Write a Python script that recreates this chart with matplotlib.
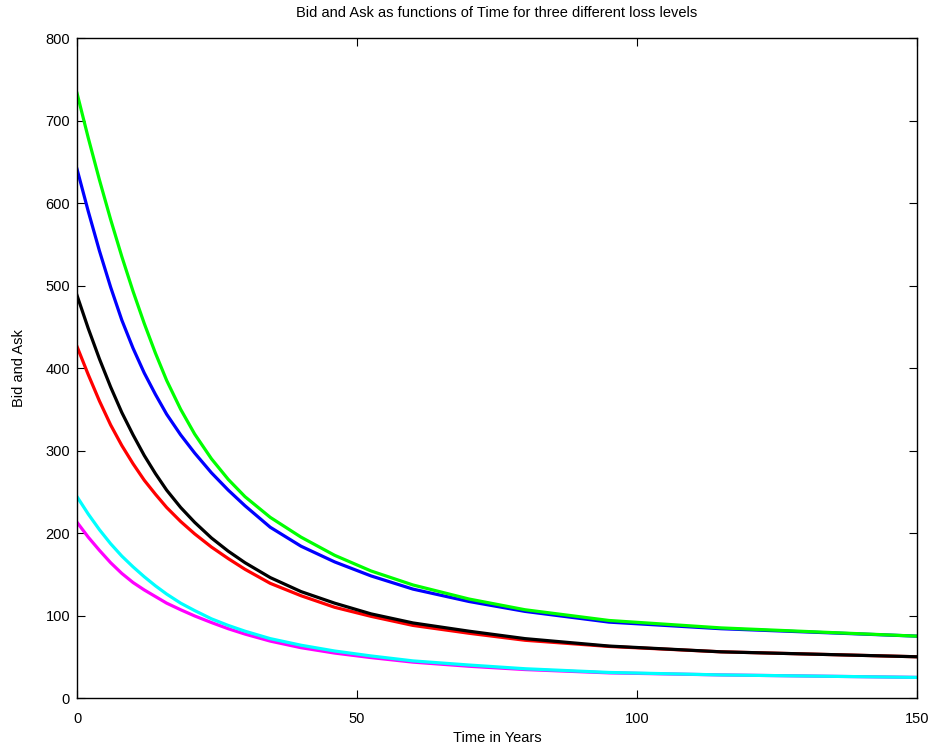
import matplotlib
matplotlib.use("Agg")
import matplotlib.pyplot as plt

plt.rcParams['font.family'] = ['Liberation Sans', 'DejaVu Sans']

t = [0, 2, 4, 6, 8, 10, 12, 14, 16, 18.5, 21, 24, 27, 30, 34.5, 40, 46, 52.5, 60, 70, 80, 95, 115, 150]

bid_low = [213, 195, 179, 164, 151, 140, 131, 123, 115, 107, 99.5, 91.5, 84, 77.5, 69, 61, 54.5, 49, 43.5, 38.5, 34.5, 30.5, 28, 25]
ask_low = [244, 223, 204, 187, 172, 159, 147, 136, 126, 115, 106, 96, 88, 81, 72, 64, 57, 51, 45, 40, 35.5, 31, 28, 25]
bid_mid = [426, 392, 360, 331, 306, 284, 264, 247, 231, 214, 199, 183, 169, 156, 139, 124, 110, 99, 88, 78.5, 70, 62.5, 56, 50]
ask_mid = [488, 448, 411, 377, 346, 319, 294, 272, 252, 231, 213, 194, 178, 164, 146, 129, 115, 102, 91, 81, 72, 63, 56, 50]
bid_high = [641, 590, 542, 498, 458, 424, 394, 368, 344, 319, 297, 273, 252, 233, 207, 184, 165, 148, 132, 117, 105, 92, 84, 75]
ask_high = [733, 679, 628, 580, 535, 493, 454, 418, 385, 350, 320, 290, 265, 244, 219, 195, 173, 154, 137, 120, 107, 94, 85, 75]

fig = plt.figure(figsize=(9.35, 7.5), dpi=100)
ax = fig.add_axes([0.0824, 0.0693, 0.8984, 0.88])

lw = 2.3
ax.plot(t, bid_mid, color=(1, 0, 0), lw=lw)
ax.plot(t, bid_high, color=(0, 0, 1), lw=lw)
ax.plot(t, bid_low, color=(1, 0, 1), lw=lw)
ax.plot(t, ask_mid, color=(0, 0, 0), lw=lw)
ax.plot(t, ask_high, color=(0, 1, 0), lw=lw)
ax.plot(t, ask_low, color=(0, 1, 1), lw=lw)

ax.set_xlim(0, 150)
ax.set_ylim(0, 800)
ax.set_xticks([0, 50, 100, 150])
ax.set_yticks(range(0, 801, 100))
ax.tick_params(direction='in', length=6, width=0.8, top=True, right=True, labelsize=10.5)
ax.tick_params(axis='x', pad=10)
ax.tick_params(axis='y', pad=5)
for s in ax.spines.values():
    s.set_linewidth(1.0)

ax.set_title('Bid and Ask as functions of Time for three different loss levels', fontsize=10.5, pad=15)
ax.set_xlabel('Time in Years', fontsize=10.5, labelpad=4)
ax.set_ylabel('Bid and Ask', fontsize=10.5, labelpad=14)

fig.savefig('out.png', dpi=100)
